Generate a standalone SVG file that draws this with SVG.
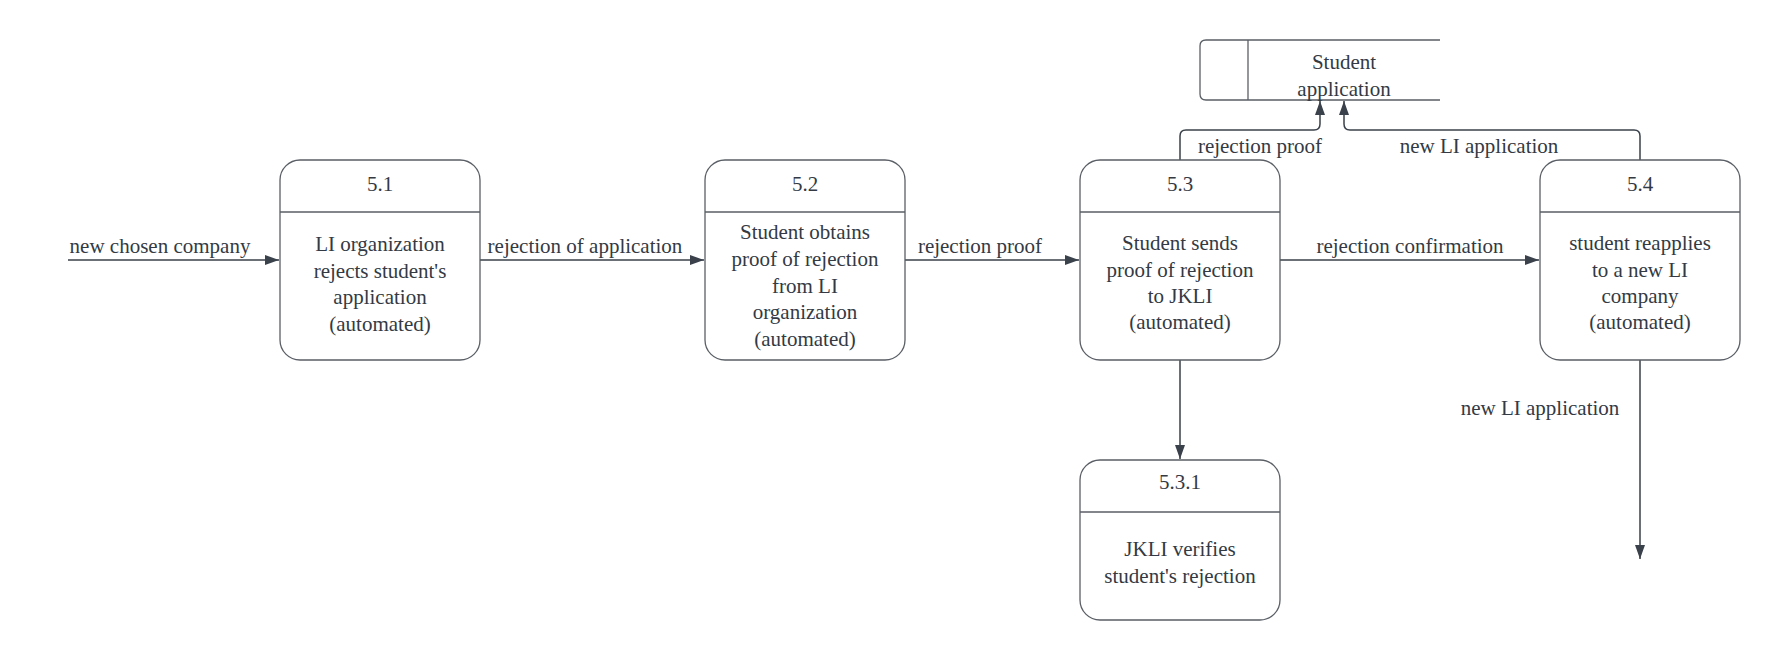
<svg xmlns="http://www.w3.org/2000/svg" width="1780" height="660" viewBox="0 0 1780 660">
<style>
.box{fill:#ffffff;stroke:#5a5f66;stroke-width:1.3}
.div{stroke:#5a5f66;stroke-width:1.3;fill:none}
.t{font-family:"Liberation Serif",serif;font-size:21px;fill:#333a44;text-anchor:middle}
.c{fill:none;stroke:#3a414a;stroke-width:1.5}
</style>
<defs>
<marker id="ah" markerUnits="userSpaceOnUse" markerWidth="15" markerHeight="12" refX="14" refY="5" orient="auto">
<path d="M0,0 L14,5 L0,10 z" fill="#3a414a"/>
</marker>
</defs>
<rect width="1780" height="660" fill="#ffffff"/>

<g id="connectors">
<path class="c" d="M68,260 H279" marker-end="url(#ah)"/>
<path class="c" d="M480,260 H704" marker-end="url(#ah)"/>
<path class="c" d="M905,260 H1079" marker-end="url(#ah)"/>
<path class="c" d="M1280,260 H1539" marker-end="url(#ah)"/>
<path class="c" d="M1180,360 V459" marker-end="url(#ah)"/>
<path class="c" d="M1640,360 V559" marker-end="url(#ah)"/>
<path class="c" d="M1180,160 V136 Q1180,130 1186,130 H1314 Q1320,130 1320,124 V101" marker-end="url(#ah)"/>
<path class="c" d="M1640,160 V136 Q1640,130 1634,130 H1350 Q1344,130 1344,124 V101" marker-end="url(#ah)"/>
<text class="t" x="160" y="253">new chosen company</text>
<text class="t" x="585" y="253">rejection of application</text>
<text class="t" x="980" y="253">rejection proof</text>
<text class="t" x="1410" y="253">rejection confirmation</text>
<text class="t" x="1260" y="153">rejection proof</text>
<text class="t" x="1479" y="153">new LI application</text>
<text class="t" x="1540" y="415">new LI application</text>
</g>

<g id="store">
<path class="div" d="M1440,40 H1206 Q1200,40 1200,46 V94 Q1200,100 1206,100 H1440"/>
<line class="div" x1="1248" y1="40" x2="1248" y2="100"/>
<text class="t" x="1344" y="69">Student</text>
<text class="t" x="1344" y="96">application</text>
</g>

<g id="n51">
<rect class="box" x="280" y="160" width="200" height="200" rx="20"/>
<line class="div" x1="280" y1="212" x2="480" y2="212"/>
<text class="t" x="380" y="191">5.1</text>
<text class="t" x="380" y="251">LI organization</text>
<text class="t" x="380" y="278">rejects student's</text>
<text class="t" x="380" y="304">application</text>
<text class="t" x="380" y="331">(automated)</text>
</g>

<g id="n52">
<rect class="box" x="705" y="160" width="200" height="200" rx="20"/>
<line class="div" x1="705" y1="212" x2="905" y2="212"/>
<text class="t" x="805" y="191">5.2</text>
<text class="t" x="805" y="239">Student obtains</text>
<text class="t" x="805" y="266">proof of rejection</text>
<text class="t" x="805" y="293">from LI</text>
<text class="t" x="805" y="319">organization</text>
<text class="t" x="805" y="346">(automated)</text>
</g>

<g id="n53">
<rect class="box" x="1080" y="160" width="200" height="200" rx="20"/>
<line class="div" x1="1080" y1="212" x2="1280" y2="212"/>
<text class="t" x="1180" y="191">5.3</text>
<text class="t" x="1180" y="250">Student sends</text>
<text class="t" x="1180" y="277">proof of rejection</text>
<text class="t" x="1180" y="303">to JKLI</text>
<text class="t" x="1180" y="329">(automated)</text>
</g>

<g id="n54">
<rect class="box" x="1540" y="160" width="200" height="200" rx="20"/>
<line class="div" x1="1540" y1="212" x2="1740" y2="212"/>
<text class="t" x="1640" y="191">5.4</text>
<text class="t" x="1640" y="250">student reapplies</text>
<text class="t" x="1640" y="277">to a new LI</text>
<text class="t" x="1640" y="303">company</text>
<text class="t" x="1640" y="329">(automated)</text>
</g>

<g id="n531">
<rect class="box" x="1080" y="460" width="200" height="160" rx="20"/>
<line class="div" x1="1080" y1="512" x2="1280" y2="512"/>
<text class="t" x="1180" y="489">5.3.1</text>
<text class="t" x="1180" y="556">JKLI verifies</text>
<text class="t" x="1180" y="583">student's rejection</text>
</g>
</svg>
